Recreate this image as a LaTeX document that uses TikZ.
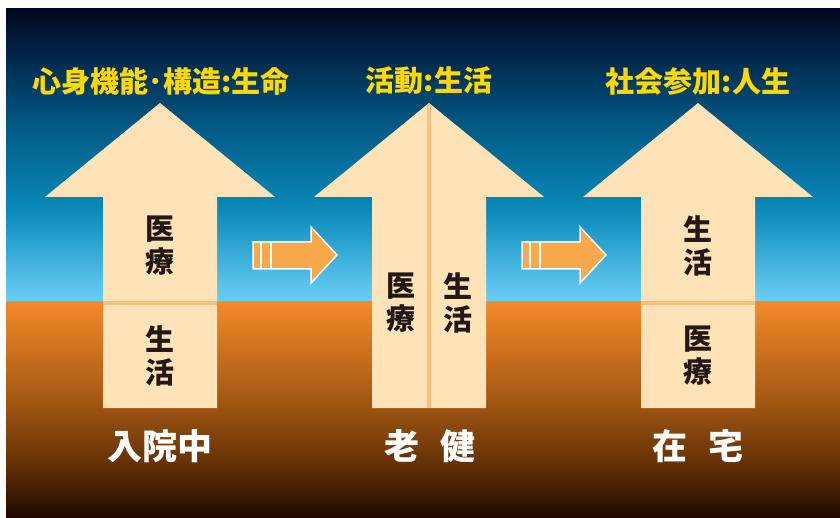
\documentclass[tikz,border=0pt]{standalone}
\usepackage{fontspec}
\newfontfamily\jp{Noto Sans CJK JP}
\definecolor{s0}{HTML}{000620}
\definecolor{s1}{HTML}{012A4E}
\definecolor{s2}{HTML}{035C88}
\definecolor{s3}{HTML}{0A8ABA}
\definecolor{s4}{HTML}{6CD0F8}
\definecolor{g0}{HTML}{F5892A}
\definecolor{g1}{HTML}{A35812}
\definecolor{g2}{HTML}{5E2C04}
\definecolor{g3}{HTML}{1E0600}
\definecolor{arrfill}{HTML}{FFE3B8}
\definecolor{divcol}{HTML}{FBBF7E}
\definecolor{darktxt}{HTML}{231815}
\definecolor{yel}{HTML}{FFD800}
\definecolor{smarr}{HTML}{F9A94B}
\tikzset{
  bigarrow/.style={fill=arrfill},
  divider/.style={draw=divcol, line width=4pt},
  smallarrow/.style={fill=smarr, draw=white, line width=1.5pt, line join=miter},
  stripe/.style={draw=white, line width=2pt},
  toplbl/.style={inner sep=0pt, text=yel, font=\jp\bfseries\fontsize{29}{31}\selectfont},
  innerlbl/.style={inner sep=0pt, align=center, text=darktxt, font=\jp\bfseries\fontsize{29}{33}\selectfont},
  botlbl/.style={inner sep=0pt, text=white, font=\jp\bfseries\fontsize{35}{38}\selectfont}
}
\begin{document}
\begin{tikzpicture}[x=1pt,y=-1pt]
\useasboundingbox (0,0) rectangle (840,518);
\fill[white] (0,0) rectangle (840,518);
% sky
\shade[top color=s0, bottom color=s1] (6,9) rectangle (840,60.5);
\shade[top color=s1, bottom color=s2] (6,60) rectangle (840,130.5);
\shade[top color=s2, bottom color=s3] (6,130) rectangle (840,210.5);
\shade[top color=s3, bottom color=s4] (6,210) rectangle (840,302);
% ground
\shade[top color=g0, bottom color=g1] (6,302) rectangle (840,400.5);
\shade[top color=g1, bottom color=g2] (6,400) rectangle (840,470.5);
\shade[top color=g2, bottom color=g3] (6,470) rectangle (840,518);
% big arrows
\foreach \cx in {160,429,698}{
  \fill[bigarrow] (\cx,103) -- ({\cx+115},197) -- ({\cx+57},197) -- ({\cx+57},408)
    -- ({\cx-57},408) -- ({\cx-57},197) -- ({\cx-115},197) -- cycle;
}
\draw[divider] (103,303) -- (217,303);
\draw[divider] (429,104) -- (429,408);
\draw[divider] (641,303) -- (755,303);
% small arrows
\foreach \sx in {0,269}{
  \draw[smallarrow] ({253+\sx},242) -- ({311+\sx},242) -- ({311+\sx},227) -- ({337+\sx},255)
    -- ({311+\sx},283) -- ({311+\sx},269) -- ({253+\sx},269) -- cycle;
  \draw[stripe] ({261+\sx},242) -- ({261+\sx},269);
  \draw[stripe] ({271+\sx},242) -- ({271+\sx},269);
}
% labels
\node[toplbl] (t1) at (161,81) {心身機能･構造:生命};
\node[toplbl] (t2) at (429,81) {活動:生活};
\node[toplbl] (t3) at (698,81) {社会参加:人生};
\node[innerlbl] (m1) at (160,246) {医\\療};
\node[innerlbl] (l1) at (160,356) {生\\活};
\node[innerlbl] (m2) at (401,303) {医\\療};
\node[innerlbl] (l2) at (458,303) {生\\活};
\node[innerlbl] (l3) at (698,246) {生\\活};
\node[innerlbl] (m3) at (698,356) {医\\療};
\node[botlbl] (b1) at (160,446) {入院中};
\node[botlbl] (b2) at (430,446) {老\hspace{0.6em}健};
\node[botlbl] (b3) at (698,446) {在\hspace{0.6em}宅};
\end{tikzpicture}
\end{document}
